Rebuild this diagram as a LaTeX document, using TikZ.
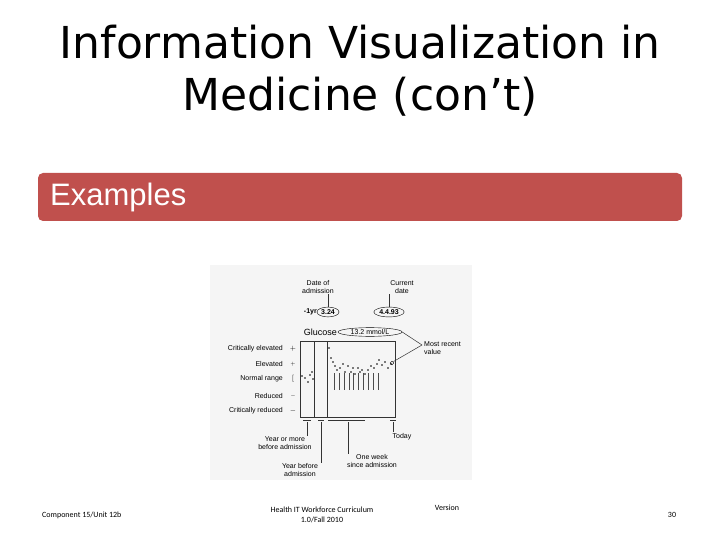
\documentclass[tikz,border=0pt]{standalone}
\usepackage{fontspec}
\setmainfont{Liberation Sans}
\newfontfamily\footfont{Carlito}
\newfontfamily\titlefont{DejaVu Sans}
\usetikzlibrary{shapes.geometric,positioning}
\definecolor{barred}{HTML}{C0504D}
\begin{document}
\begin{tikzpicture}[x=1pt,y=-1pt,
  lbl/.style={font=\fontsize{7}{8}\selectfont, inner sep=0pt, align=center},
  lft/.style={lbl, anchor=east},
  foot/.style={font=\footfont\fontsize{8}{10}\selectfont, inner sep=0pt, align=center},
  tick/.style={black!80, line width=0.5pt}]
  \useasboundingbox (0,0) rectangle (720,540);
  % title
  \node[font=\titlefont\fontsize{44}{52}\selectfont, align=center] (title) at (360,71)
    {Information Visualization in\\Medicine (con’t)};
  % header bar
  \fill[barred, rounded corners=5pt] (38,173) rectangle (682,221);
  \node[font=\fontsize{31}{34}\selectfont, text=white, anchor=west, inner sep=0pt] (ex) at (50,197) {Examples};
  % figure panel
  \fill[black!4] (210,265) rectangle (472,480);
  \draw[tick] (300,341) rectangle (395,417);
  \draw[tick] (314,341) -- (314,417);
  \draw[tick] (327,341) -- (327,417);
  % header ovals
  \node[lbl, anchor=east] (yr) at (317,312) {\textbf{-1yr}};
  \node[lbl, draw, ellipse, inner sep=1pt] (adm) at (328,312) {\textbf{3.24}};
  \node[lbl, draw, ellipse, inner sep=1pt] (cur) at (389,312) {\textbf{4.4.93}};
  \node[lbl, anchor=south] (dadm) at (318,294) {Date of\\admission};
  \node[lbl, anchor=south] (dcur) at (402,294) {Current\\date};
  \draw[tick] (dadm.south -| adm.north) -- (adm.north);
  \draw[tick] (dcur.south -| cur.north) -- (cur.north);
  \node[lbl, font=\fontsize{9}{10}\selectfont, anchor=east] (glu) at (337,332) {Glucose};
  \node[lbl, draw, ellipse, inner sep=0.5pt, minimum width=64pt] (val) at (370,332) {13.2 mmol/L};
  % left scale
  \foreach \t/\y/\s in {Critically elevated/349/$+$, Elevated/364/{\tiny$+$},
      Normal range/379/{$\lbrack$}, Reduced/396/{\tiny$-$}, Critically reduced/411/$-$}{
    \node[lft] at (283,\y) {\t};
    \node[lbl] at (293,\y) {\s};
  }
  % data
  \foreach \px/\py in {302/376,305/378,308/382,310/375,312/372,313/379,
      329/348,331/358,333/362,335/366,337/370,340/368,343/364,345/372,348/366,
      351/372,353/368,355/374,358/368,360/372,362/370,365/374,368/370,371/366,
      374/368,377/364,379/360,382/365,385/362,388/368,391/364}
    \fill (\px,\py) circle (0.8pt);
  \foreach \vx in {334,339,344,349,353,358,363,368,373,378}
    \draw[black!70, line width=0.4pt] (\vx,373) -- (\vx,390);
  \node[draw, circle, inner sep=1.3pt, line width=0.4pt] (last) at (392,363) {};
  % most recent value
  \node[lbl, anchor=west, align=left] (mrv) at (424,348) {Most recent\\value};
  \coordinate (mrvp) at (422,345);
  \draw[tick] (mrvp) -- (val.east);
  \draw[tick] (mrvp) -- (last.north east);
  % bottom annotations
  \draw[tick] (303,420) -- (311,420);
  \draw[tick] (318,420) -- (324,420);
  \draw[tick] (328,420) -- (365,420);
  \draw[tick] (390,420) -- (396,420);
  \node[lbl] (yom) at (285,443) {Year or more\\before admission};
  \node[lbl] (yb) at (300,470) {Year before\\admission};
  \node[lbl] (ow) at (372,461) {One week\\since admission};
  \node[lbl] (td) at (402,437) {Today};
  \draw[tick] (307,422) -- (yom.north -| 307,0);
  \draw[tick] (321,422) -- (yb.north -| 321,0);
  \draw[tick] (348,422) -- (ow.north -| 348,0);
  \draw[tick] (393,422) -- (393,432);
  % footer
  \node[foot, anchor=west] (comp) at (42,515) {Component 15/Unit 12b};
  \node[foot] (hit) at (322,515) {Health IT Workforce Curriculum\\1.0/Fall 2010};
  \node[foot] (ver) at (447,508) {Version};
  \node[foot] (pg) at (672,515) {30};
\end{tikzpicture}
\end{document}
